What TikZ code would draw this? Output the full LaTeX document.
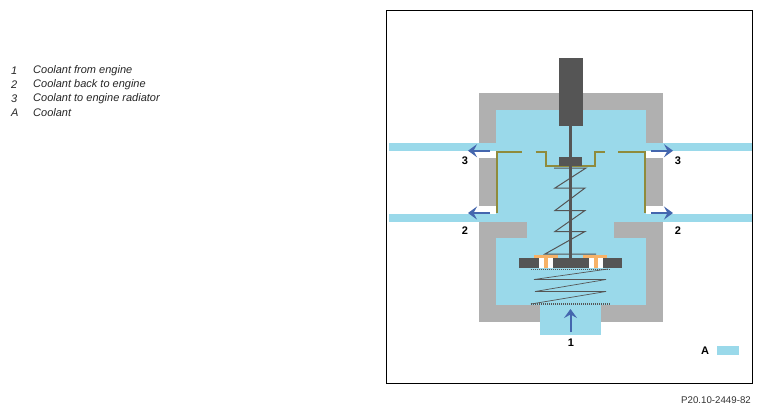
\documentclass[tikz,border=0pt]{standalone}
\usepackage{fontspec}
\setmainfont{Liberation Sans}
\usetikzlibrary{arrows.meta}
\definecolor{coolant}{HTML}{9AD9EA}
\definecolor{housing}{HTML}{B0B0B0}
\definecolor{darkpart}{HTML}{555555}
\definecolor{olive}{HTML}{8F8B3C}
\definecolor{flow}{HTML}{4466AE}
\definecolor{orangepart}{HTML}{F7B267}
\tikzset{
  x=1pt,y=-1pt,
  legendtext/.style={anchor=west,inner sep=0pt,font=\fontsize{11}{13}\selectfont\itshape,text=black!85},
  callout/.style={inner sep=0pt,font=\fontsize{11}{13}\selectfont\bfseries},
  wall/.style={draw=olive,line width=2pt},
  flowarrow/.style={draw=flow,line width=2pt,-{Stealth[length=9pt,width=13pt,inset=3.5pt]}},
  coil/.style={draw=darkpart,line width=1pt},
  fineline/.style={draw=darkpart,line width=1.4pt,dash pattern=on 1pt off 1pt}
}
\begin{document}
\begin{tikzpicture}
\useasboundingbox (0,0) rectangle (762,413);
\fill[white] (0,0) rectangle (762,413);
% housing
\fill[housing] (478.5,93) rectangle (662.5,322);
% coolant
\fill[coolant] (495.5,110) rectangle (646,222);
\fill[coolant] (527,220) rectangle (614,240);
\fill[coolant] (495.5,238) rectangle (646,305);
\fill[coolant] (540,304) rectangle (601,335);
\fill[coolant] (389,143) rectangle (752,151);
\fill[coolant] (389,214) rectangle (752,222);
% white port gaps
\fill[white] (478,151) rectangle (495.5,158);
\fill[white] (478,206) rectangle (495.5,214);
\fill[white] (646,151) rectangle (663,158);
\fill[white] (646,206) rectangle (663,214);
% restore housing blocks beside the lower port bands
\fill[housing] (478.5,222) rectangle (527,238);
\fill[housing] (614,222) rectangle (662.5,238);
% olive wall
\draw[wall] (496.7,213) -- (496.7,151.8) -- (522,151.8);
\draw[wall] (535.5,151.8) -- (546,151.8) -- (546,166) -- (595,166) -- (595,151.8) -- (605,151.8);
\draw[wall] (618,151.8) -- (644.5,151.8) -- (644.5,213);
% actuator
\fill[darkpart] (559,58) rectangle (582.5,126);
\fill[darkpart] (559,157) rectangle (582,165.5);
\draw[darkpart,line width=2.6pt] (570.5,126) -- (570.5,259);
% upper spring
\draw[coil] (554,168) -- (586,168) -- (555,188) -- (585,188) -- (555,210.5) -- (585,210.5) -- (555,231.5) -- (585,231.5) -- (545,254) -- (596,254);
% valve disc
\fill[darkpart] (519,258) rectangle (622,268);
\fill[white] (539,258) rectangle (553,268);
\fill[white] (588.5,258) rectangle (602.5,268);
\fill[orangepart] (544,256) rectangle (547.5,268);
\fill[orangepart] (594,256) rectangle (597.5,268);
\fill[orangepart] (534,255) rectangle (558,257.5);
\fill[orangepart] (583,255) rectangle (607,257.5);
% lower spring
\draw[fineline] (531,269.5) -- (610,269.5);
\draw[fineline] (531,304) -- (610,304);
\draw[coil,line width=.7pt] (608,269) -- (534,279.5) -- (606,279.5) -- (535,291.5) -- (606,291.5) -- (531,304);
% flow arrows
\coordinate (a3ls) at (490,150.7); \coordinate (a3le) at (468,150.7);
\coordinate (a2ls) at (490,213);   \coordinate (a2le) at (468,213);
\coordinate (a3rs) at (651,150.7); \coordinate (a3re) at (673,150.7);
\coordinate (a2rs) at (651,213);   \coordinate (a2re) at (673,213);
\coordinate (a1s) at (570.5,332);  \coordinate (a1e) at (570.5,309);
\draw[flowarrow] (a3ls) -- (a3le);
\draw[flowarrow] (a2ls) -- (a2le);
\draw[flowarrow] (a3rs) -- (a3re);
\draw[flowarrow] (a2rs) -- (a2re);
\draw[flowarrow] (a1s) -- (a1e);
% frame
\draw[black,line width=1pt] (386.5,10) rectangle (752,383);
% callouts
\node[callout] (c3l) at (465,161) {3};
\node[callout] (c2l) at (465,231) {2};
\node[callout] (c3r) at (678,161) {3};
\node[callout] (c2r) at (678,231) {2};
\node[callout] (c1) at (571,343) {1};
\node[callout] (cA) at (705,351) {A};
\fill[coolant] (717,346) rectangle (739,355);
% legend
\node[legendtext] (k1) at (11,70.5) {1};
\node[legendtext] (t1) at (33,70.5) {Coolant from engine};
\node[legendtext] (k2) at (11,84.5) {2};
\node[legendtext] (t2) at (33,84.5) {Coolant back to engine};
\node[legendtext] (k3) at (11,98.5) {3};
\node[legendtext] (t3) at (33,98.5) {Coolant to engine radiator};
\node[legendtext] (kA) at (11,112.5) {A};
\node[legendtext] (tA) at (33,112.5) {Coolant};
\node[anchor=east,inner sep=0pt,font=\fontsize{9.7}{11}\selectfont,text=black!80] (code) at (751,400) {P20.10-2449-82};
\end{tikzpicture}
\end{document}
